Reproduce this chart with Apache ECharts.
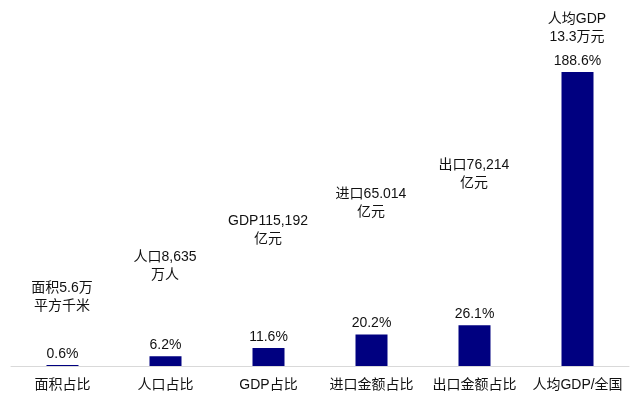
<!DOCTYPE html>
<html><head><meta charset="utf-8">
<script src="https://cdn.jsdelivr.net/npm/echarts@6/dist/echarts.min.js"></script>
<style>html,body{margin:0;padding:0;background:#fff}#c{width:640px;height:399px}</style>
</head><body><div id="c"></div>
<script>
const categories = ['面积占比','人口占比','GDP占比','进口金额占比','出口金额占比','人均GDP/全国'];
const shares = [0.6, 6.2, 11.6, 20.2, 26.1, 188.6];
const notes = ['面积5.6万\n平方千米','人口8,635\n万人','GDP115,192\n亿元','进口65.014\n亿元','出口76,214\n亿元','人均GDP\n13.3万元'];
const notePos = [43.6, 63.8, 86.9, 103.9, 122.5, 216.2];
const FONT = '"Liberation Sans", Arial, "Noto Sans CJK SC", sans-serif';
const chart = echarts.init(document.getElementById('c'));
chart.setOption({
  animation:false,
  grid:{left:11, right:11, top:7.4, bottom:33},
  xAxis:{type:'category', data:categories,
    axisLine:{lineStyle:{color:'#d9d9d9', width:1}}, axisTick:{show:false},
    axisLabel:{interval:0, color:'#111', fontSize:14, fontFamily:FONT, margin:12}},
  yAxis:{type:'value', min:0, max:230, show:false, splitLine:{show:false}},
  series:[
    {type:'bar', data:shares, barWidth:32, itemStyle:{color:'#000080'},
     label:{show:true, position:'top', distance:4, formatter:p=>p.value.toFixed(1)+'%', color:'#111', fontSize:14, fontFamily:FONT}},
    {type:'scatter', data:notePos, symbolSize:1, itemStyle:{color:'#ffffff', opacity:1}, clip:false, silent:true,
     labelLayout:{hideOverlap:false},
     label:{show:true, position:[0,0], opacity:1, textBorderWidth:0, formatter:p=>notes[p.dataIndex], color:'#111', fontSize:14, lineHeight:18, fontFamily:FONT, align:'center', verticalAlign:'middle'}}
  ]
});
</script></body></html>
